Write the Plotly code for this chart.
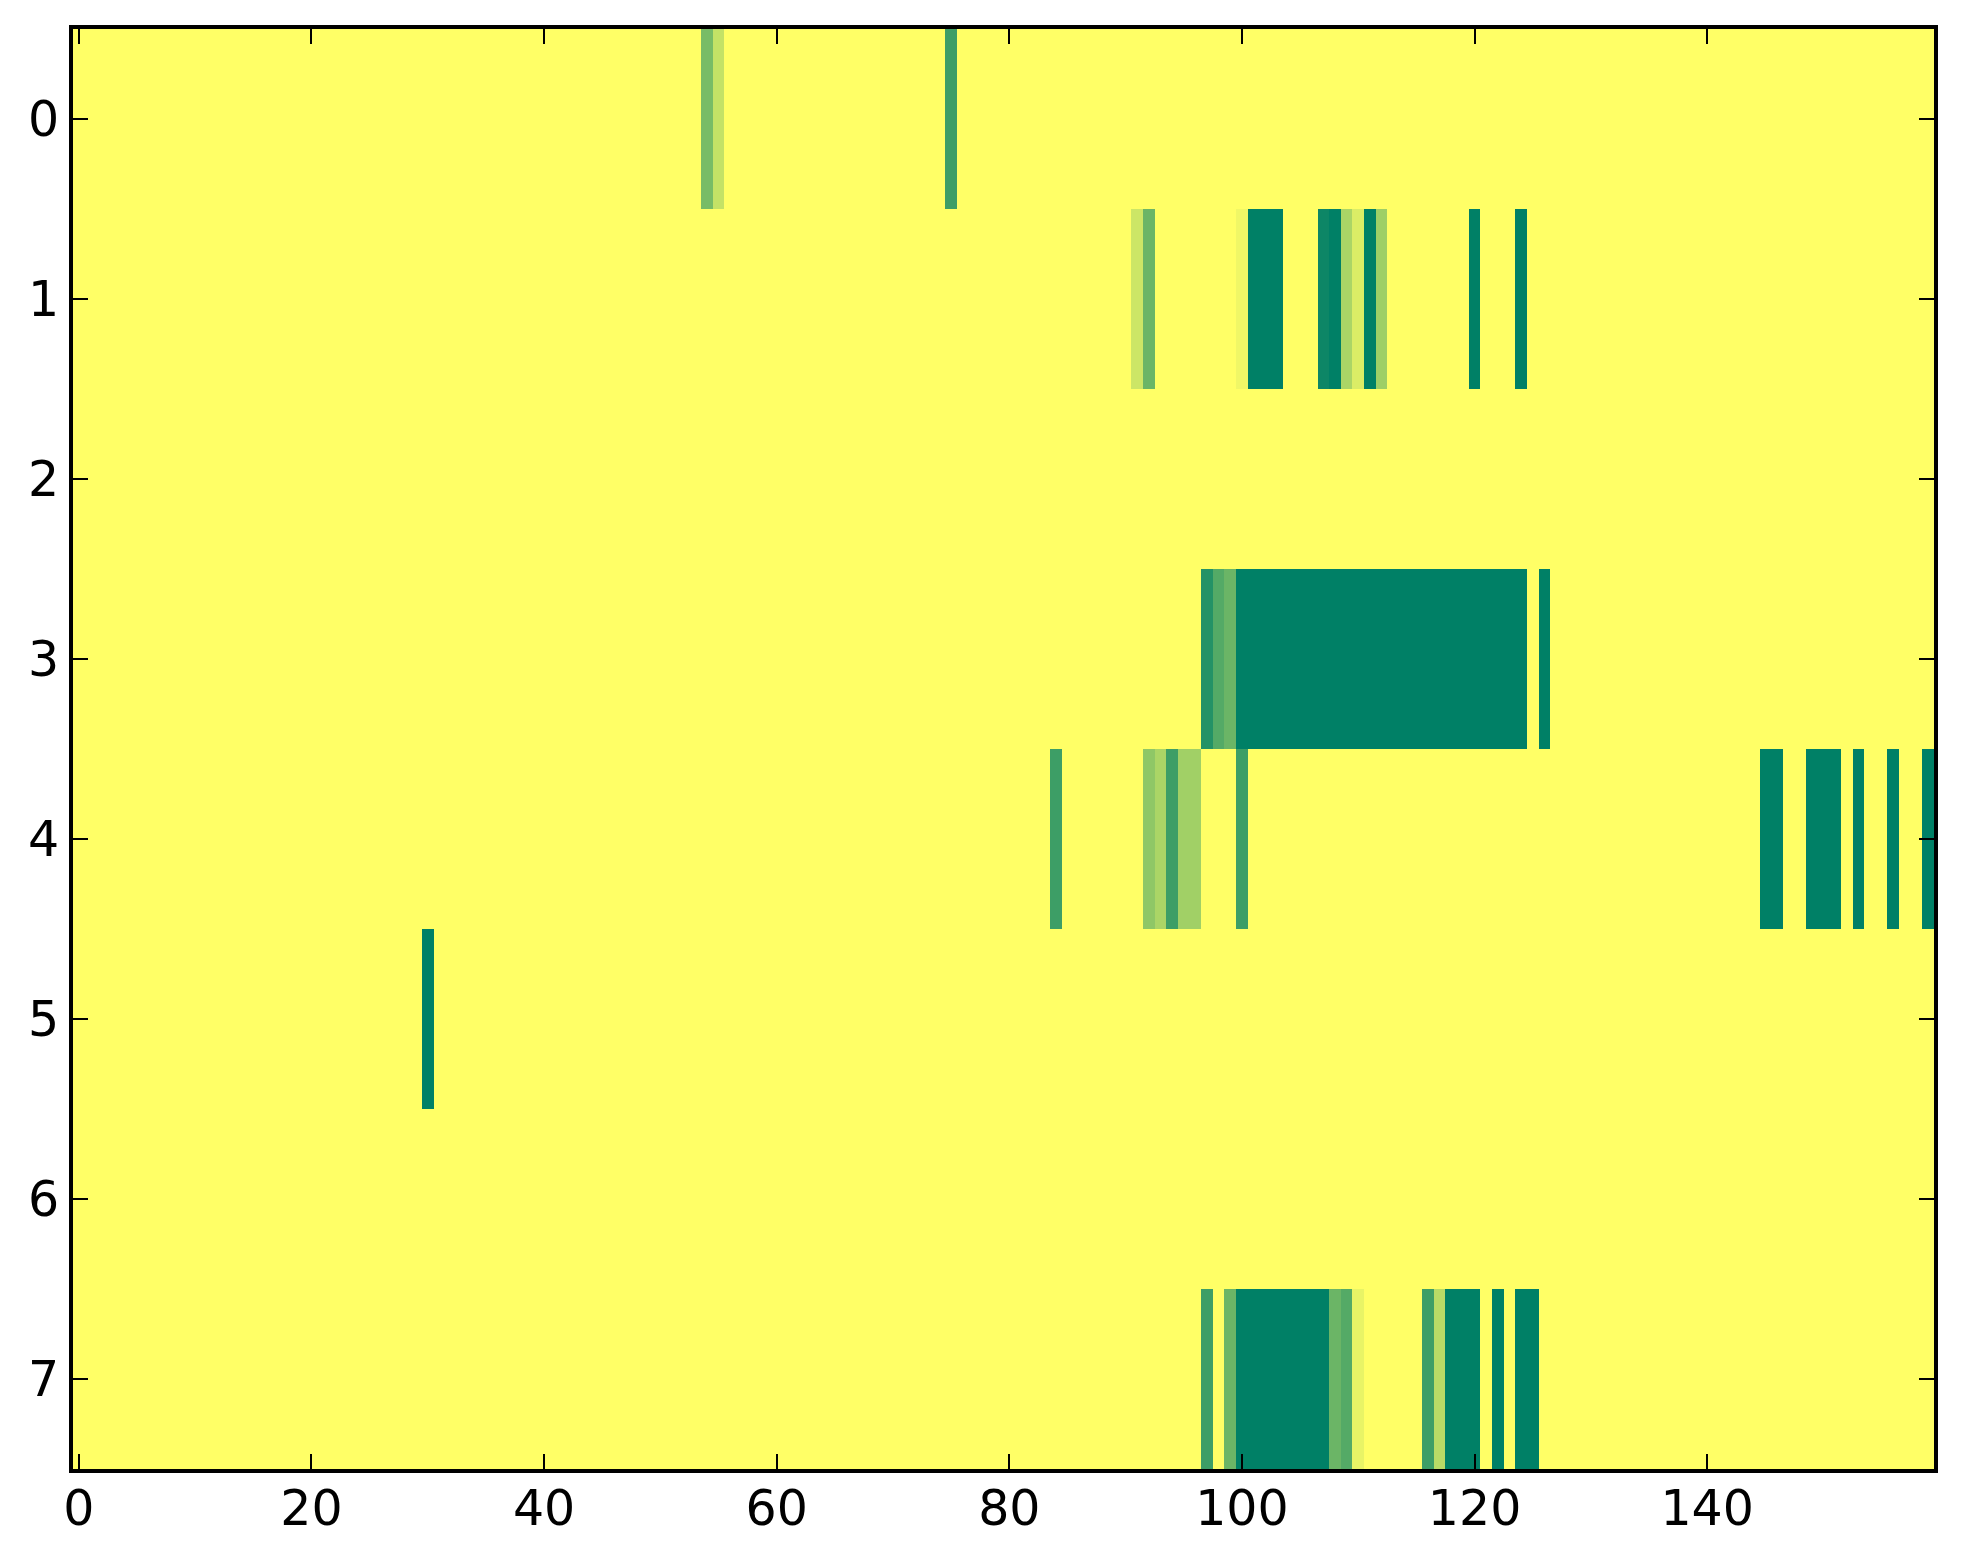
import numpy as np
import plotly.graph_objects as go

# ---- data (values normalised 0..1; columns 0..159, rows 0..7) ----
n_cols = 160
row_labels = [0, 1, 2, 3, 4, 5, 6, 7]
x_ticks = [0, 20, 40, 60, 80, 100, 120, 140]

row_0 = {54: 0.53, 55: 0.23, 75: 0.76}
row_1 = {91: 0.20, 92: 0.58, 100: 0.06, 101: 1.0, 102: 1.0, 103: 1.0,
         107: 0.95, 108: 1.0, 109: 0.33, 110: 0.14, 111: 1.0, 112: 0.38,
         120: 1.0, 124: 1.0}
row_2 = {}
row_3 = {97: 0.86, 98: 0.67, 99: 0.58,
         100: 1.0, 101: 1.0, 102: 1.0, 103: 1.0, 104: 1.0, 105: 1.0, 106: 1.0,
         107: 1.0, 108: 1.0, 109: 1.0, 110: 1.0, 111: 1.0, 112: 1.0, 113: 1.0,
         114: 1.0, 115: 1.0, 116: 1.0, 117: 1.0, 118: 1.0, 119: 1.0, 120: 1.0,
         121: 1.0, 122: 1.0, 123: 1.0, 124: 1.0, 126: 1.0}
row_4 = {84: 0.76, 92: 0.44, 93: 0.33, 94: 0.76, 95: 0.37, 96: 0.37, 100: 0.76,
         145: 1.0, 146: 1.0, 149: 1.0, 150: 1.0, 151: 1.0, 153: 1.0, 156: 1.0,
         159: 1.0}
row_5 = {30: 1.0}
row_6 = {}
row_7 = {97: 0.76, 99: 0.58,
         100: 1.0, 101: 1.0, 102: 1.0, 103: 1.0, 104: 1.0, 105: 1.0, 106: 1.0,
         107: 1.0, 108: 0.58, 109: 0.67, 110: 0.09,
         116: 0.76, 117: 0.28, 118: 1.0, 119: 1.0, 120: 1.0,
         122: 1.0, 124: 1.0, 125: 1.0}

rows = [row_0, row_1, row_2, row_3, row_4, row_5, row_6, row_7]

z = np.zeros((len(rows), n_cols))
for r, d in enumerate(rows):
    for c, v in d.items():
        z[r, c] = v

# matplotlib "summer_r" colormap (linear)
summer_r = [[0.0, "rgb(255,255,102)"], [1.0, "rgb(0,128,102)"]]

fig = go.Figure(go.Heatmap(
    z=z,
    x=list(range(n_cols)),
    y=row_labels,
    colorscale=summer_r,
    zmin=0, zmax=1,
    showscale=False,
    hoverinfo="skip",
))

axis_common = dict(
    showline=True, linecolor="black", linewidth=4, mirror="ticks",
    ticks="inside", ticklen=15, tickwidth=2, tickcolor="black",
    showgrid=False, zeroline=False,
    tickfont=dict(family="DejaVu Sans", size=49, color="black"),
)

fig.update_xaxes(range=[-0.5, n_cols - 0.5], tickvals=x_ticks,
                 ticktext=[str(t) for t in x_ticks],
                 ticklabelstandoff=-7, **axis_common)
fig.update_yaxes(range=[7.5, -0.5], tickvals=row_labels,
                 ticktext=[str(t) for t in row_labels], **axis_common)

# page body has an 8px default margin; compensate so plot area lands at
# x 73..1934, y 29..1469 in the 1963x1564 window
fig.update_layout(
    width=1955, height=1556,
    margin=dict(l=65, r=29, t=21, b=95, pad=0),
    plot_bgcolor="white", paper_bgcolor="white",
)

fig.write_html("out.html")
